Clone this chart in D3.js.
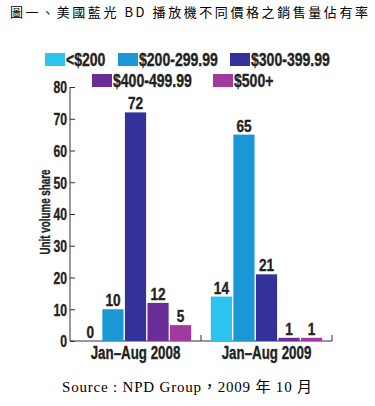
<!DOCTYPE html>
<html>
<head>
<meta charset="utf-8">
<script src="https://cdn.jsdelivr.net/npm/d3@7"></script>
<style>
  body { margin: 0; background: #fff; }
  svg { display: block; }
  .cond { font-family: "Liberation Sans", Arial, sans-serif; font-weight: bold; stroke: #222; stroke-width: 0.35px; }
</style>
</head>
<body>
<svg id="chart" width="375" height="406"></svg>
<script>
// data
const periods = ["Jan\u2013Aug 2008", "Jan\u2013Aug 2009"];
const priceRanges = ["<$200", "$200-299.99", "$300-399.99", "$400-499.99", "$500+"];
const share2008 = [0, 10, 72, 12, 5];
const share2009 = [14, 65, 21, 1, 1];
const yTicks = [0, 10, 20, 30, 40, 50, 60, 70, 80];
const colors = ["#2cc3ee", "#1a98d6", "#35319a", "#6a2d98", "#a03a9e"];

const svg = d3.select("#chart");
const width = 375, height = 406;
const margin = { top: 87, right: 43, bottom: 65, left: 70 };

// squeeze bold sans into a condensed look
function condense(sel, k) {
    sel.each(function () {
        const w = this.getComputedTextLength();
        d3.select(this).attr("textLength", w * k).attr("lengthAdjust", "spacingAndGlyphs");
    });
}

// title
svg.append("text")
    .attr("x", 10)
    .attr("y", 17)
    .attr("textLength", 358)
    .attr("lengthAdjust", "spacing")
    .style("font-family", "'Noto Sans CJK TC', sans-serif")
    .style("font-size", "13px")
    .text("圖一、美國藍光 BD 播放機不同價格之銷售量佔有率");

// scales
const y = d3.scaleLinear()
    .domain([0, 80])
    .range([height - margin.bottom, margin.top]);

const x0 = d3.scaleBand()
    .domain(periods)
    .range([margin.left, width - margin.right])
    .paddingInner(0.15)
    .paddingOuter(0.075);

const x1 = d3.scaleBand()
    .domain(priceRanges)
    .range([0, x0.bandwidth()])
    .paddingInner(0.06);

const color = d3.scaleOrdinal().domain(priceRanges).range(colors);

const rows = periods.map((p, i) => ({
    period: p,
    values: priceRanges.map((r, j) => ({ range: r, value: (i === 0 ? share2008 : share2009)[j] }))
}));

// y axis
const yAxis = svg.append("g")
    .attr("transform", `translate(${margin.left},0)`)
    .call(d3.axisRight(y).tickValues(yTicks).tickSize(5).tickFormat(d3.format("d")));
yAxis.select(".domain").attr("stroke", "#333").attr("d", `M0,${y(0)}V${y(80)}`);
yAxis.selectAll(".tick line").attr("stroke", "#333");
yAxis.selectAll(".tick text")
    .attr("x", -3)
    .attr("dy", "0.36em")
    .attr("text-anchor", "end")
    .attr("class", "cond")
    .style("font-size", "16px")
    .attr("fill", "#222")
    .call(condense, 0.76);

// x axis line with ticks pointing up
const xAxis = svg.append("g");
xAxis.append("line")
    .attr("x1", margin.left).attr("x2", width - margin.right)
    .attr("y1", y(0)).attr("y2", y(0))
    .attr("stroke", "#333");
xAxis.selectAll("line.tk")
    .data([x0.range()[0] + x0.step(), x0.range()[1]])
    .join("line")
    .attr("class", "tk")
    .attr("x1", d => d).attr("x2", d => d)
    .attr("y1", y(0)).attr("y2", y(0) - 6)
    .attr("stroke", "#333");
xAxis.selectAll("text")
    .data(periods)
    .join("text")
    .attr("class", "cond")
    .attr("x", d => x0(d) + x0.bandwidth() / 2)
    .attr("y", y(0) + 18)
    .attr("text-anchor", "middle")
    .style("font-size", "18px")
    .attr("fill", "#222")
    .text(d => d)
    .call(condense, 0.74);

// y label
svg.append("text")
    .attr("class", "cond")
    .attr("transform", `translate(50,${(y(0) + y(80)) / 2 - 2}) rotate(-90)`)
    .attr("text-anchor", "middle")
    .style("font-size", "14px")
    .attr("fill", "#222")
    .text("Unit volume share")
    .call(condense, 0.7);

// bars
const groups = svg.append("g")
    .selectAll("g")
    .data(rows)
    .join("g")
    .attr("transform", d => `translate(${x0(d.period)},0)`);

groups.selectAll("rect")
    .data(d => d.values)
    .join("rect")
    .attr("x", d => x1(d.range))
    .attr("y", d => y(d.value))
    .attr("width", x1.bandwidth())
    .attr("height", d => y(0) - y(d.value))
    .attr("fill", d => color(d.range));

groups.selectAll("text")
    .data(d => d.values)
    .join("text")
    .attr("class", "cond")
    .attr("x", d => x1(d.range) + x1.bandwidth() / 2)
    .attr("y", d => y(d.value) - 3)
    .attr("text-anchor", "middle")
    .style("font-size", "17px")
    .attr("fill", "#222")
    .text(d => d.value)
    .call(condense, 0.8);

// legend
const legendPos = [
    { x: 45, y: 53 }, { x: 118, y: 53 }, { x: 230, y: 53 },
    { x: 92, y: 74 }, { x: 213, y: 74 }
];
const legend = svg.append("g")
    .selectAll("g")
    .data(priceRanges)
    .join("g")
    .attr("transform", (d, i) => `translate(${legendPos[i].x},${legendPos[i].y})`);
legend.append("rect")
    .attr("width", 20)
    .attr("height", 13)
    .attr("fill", d => color(d));
legend.append("text")
    .attr("class", "cond")
    .attr("x", 21)
    .attr("y", 13)
    .style("font-size", "18px")
    .attr("fill", "#222")
    .text(d => d)
    .call(condense, 0.78);

// source
svg.append("text")
    .attr("x", 62)
    .attr("y", 392)
    .attr("textLength", 250)
    .attr("lengthAdjust", "spacing")
    .style("font-family", "'Liberation Serif', 'Noto Sans CJK TC', serif")
    .style("font-size", "15px")
    .text("Source : NPD Group，2009 年 10 月");
</script>
</body>
</html>
